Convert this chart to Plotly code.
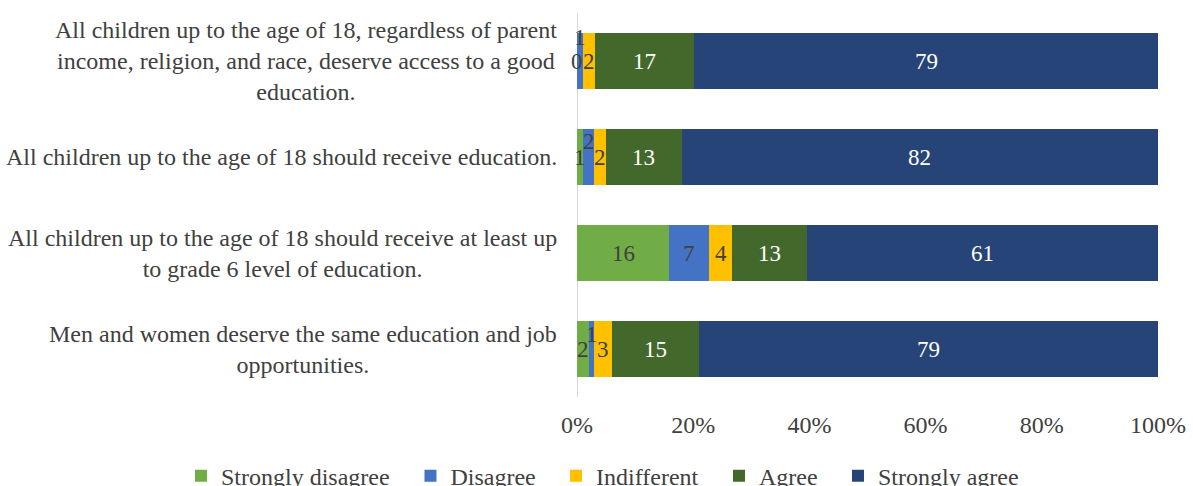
import plotly.graph_objects as go

# Survey statements (top to bottom) and response shares (%)
statements = [
    "All children up to the age of 18, regardless of parent<br>income, religion, and race, deserve access to a good<br>education.",
    "All children up to the age of 18 should receive education.",
    "All children up to the age of 18 should receive at least up<br>to grade 6 level of education.",
    "Men and women deserve the same education and job<br>opportunities.",
]
responses = ["Strongly disagree", "Disagree", "Indifferent", "Agree", "Strongly agree"]

strongly_disagree = [0, 1, 16, 2]
disagree = [1, 2, 7, 1]
indifferent = [2, 2, 4, 3]
agree = [17, 13, 13, 15]
strongly_agree = [79, 82, 61, 79]

series = [strongly_disagree, disagree, indifferent, agree, strongly_agree]
colors = ["#70ad47", "#4472c4", "#ffc000", "#43682b", "#264478"]
label_colors = ["#404040", "#404040", "#404040", "#ffffff", "#ffffff"]

# vertical nudges (px) for crowded data labels: (series index, row index) -> shift
label_nudge = {(1, 0): 24, (1, 1): 16, (1, 3): 15}

# left edge (paper x) of each legend entry along the bottom row
legend_x = [-0.6816, -0.2866, -0.0361, 0.2444, 0.4492]

FONT = "Liberation Serif, Times New Roman, serif"
TEXT = "#404040"

fig = go.Figure()
for i, (name, vals, col) in enumerate(zip(responses, series, colors)):
    fig.add_trace(go.Bar(
        y=list(range(len(statements))), x=vals, name=name, orientation="h",
        marker=dict(color=col, line=dict(width=0)),
        hoverinfo="x+name", showlegend=True,
        legend="legend" if i == 0 else f"legend{i + 1}",
    ))

# data labels centred in each segment (positions follow the normalised stack)
for row in range(len(statements)):
    total = sum(s[row] for s in series)
    cum = 0.0
    for si, s in enumerate(series):
        v = s[row]
        pct = v / total * 100
        fig.add_annotation(
            x=cum + pct / 2, y=row, xref="x", yref="y",
            text=str(v), showarrow=False,
            yshift=label_nudge.get((si, row), 0),
            font=dict(family=FONT, size=23, color=label_colors[si]),
        )
        cum += pct

# centred multi-line category labels
for row, txt in enumerate(statements):
    fig.add_annotation(
        x=0, y=row, xref="x", yref="y", xanchor="right", xshift=-18,
        text=txt, showarrow=False, align="center",
        font=dict(family=FONT, size=24, color=TEXT),
    )

legend_style = dict(orientation="h", xanchor="left", y=-0.206, yanchor="middle",
                    font=dict(family=FONT, size=24, color=TEXT), bgcolor="rgba(0,0,0,0)")
legends = {}
for i, lx in enumerate(legend_x):
    key = "legend" if i == 0 else f"legend{i + 1}"
    legends[key] = dict(legend_style, x=lx)

fig.update_layout(
    barmode="stack", barnorm="percent", bargap=0.41,
    width=1193, height=486, showlegend=True,
    margin=dict(l=577, r=35, t=13, b=89, autoexpand=False),
    paper_bgcolor="white", plot_bgcolor="white",
    font=dict(family=FONT, size=24, color=TEXT),
    xaxis=dict(
        range=[0, 100], tickvals=[0, 20, 40, 60, 80, 100],
        ticktext=["0%", "20%", "40%", "60%", "80%", "100%"],
        showgrid=False, zeroline=False, showline=False, ticks="",
        ticklabelstandoff=11, tickfont=dict(family=FONT, size=24, color=TEXT),
    ),
    yaxis=dict(
        range=[3.5, -0.5], showticklabels=False, showgrid=False, zeroline=False,
        showline=False, ticks="",
    ),
    shapes=[dict(type="line", xref="x", yref="paper", x0=0, x1=0, y0=0, y1=1,
                 line=dict(color="#d9d9d9", width=2), layer="below")],
    **legends,
)

fig.write_html("out.html")
